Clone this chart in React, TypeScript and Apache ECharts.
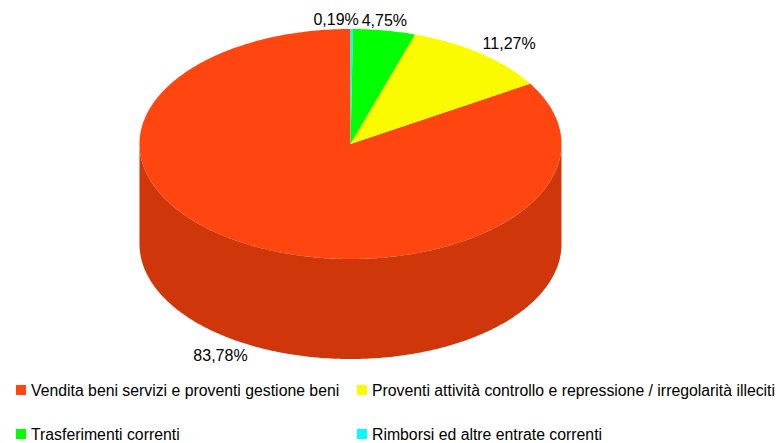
import React, { useEffect, useRef } from "react";
import * as echarts from "echarts";

const categories = [
  "Vendita beni servizi e proventi gestione beni",
  "Proventi attività controllo e repressione / irregolarità illeciti",
  "Trasferimenti correnti",
  "Rimborsi ed altre entrate correnti",
];
const values = [83.78, 11.27, 4.75, 0.19];
const topColors = ["#FF4510", "#FAFB00", "#00FF00", "#00FFFF"];
const sideColors = ["#CF370B", "#C8C900", "#00CC00", "#00CCCC"];
const drawOrder = [3, 2, 1, 0];

const CX = 350.5, CY = 144, RX = 211, RY = 115, DEPTH = 100;
const FONT = '16px "Liberation Sans", Arial, sans-serif';

const labelPlacement: any[] = [
  { align: "right", verticalAlign: "top", dx: 0, dy: 3 },
  { align: "left", verticalAlign: "bottom", dx: 2, dy: -2 },
  { align: "center", verticalAlign: "bottom", dx: 0, dy: -2 },
  { align: "right", verticalAlign: "bottom", dx: 7, dy: -2 },
];

const total = values.reduce((a, b) => a + b, 0);
const range = (i: number) => {
  let s = 0;
  for (const k of drawOrder) {
    if (k === i) break;
    s += values[k];
  }
  return [(s / total) * 360, ((s + values[i]) / total) * 360];
};
const pt = (deg: number, off = 0) => {
  const r = (deg * Math.PI) / 180;
  return [CX + RX * Math.sin(r), CY - RY * Math.cos(r) + off];
};
const arc = (a: number, b: number, off = 0) => {
  const out: number[][] = [];
  const n = Math.max(2, Math.ceil((b - a) / 0.5));
  for (let j = 0; j <= n; j++) out.push(pt(a + ((b - a) * j) / n, off));
  return out;
};

const makeRender = (i: number) => () => {
  const [a, b] = range(i);
  const children: any[] = [];
  const sa = Math.max(a, 90), sb = Math.min(b, 270);
  if (sb > sa) {
    children.push({
      type: "polygon",
      shape: { points: [...arc(sa, sb), ...arc(sa, sb, DEPTH).reverse()] },
      style: { fill: sideColors[i] },
    });
  }
  children.push({
    type: "polygon",
    shape: { points: [[CX, CY], ...arc(a, b)] },
    style: { fill: topColors[i] },
  });
  const mid = (a + b) / 2;
  const p = pt(mid, mid > 90 && mid < 270 ? DEPTH : 0);
  const lp = labelPlacement[i];
  children.push({
    type: "text",
    x: p[0] + lp.dx,
    y: p[1] + lp.dy,
    z2: 10,
    style: {
      text: values[i].toFixed(2).replace(".", ",") + "%",
      fill: "#000",
      font: FONT,
      align: lp.align,
      verticalAlign: lp.verticalAlign,
    },
  });
  return { type: "group", children };
};

const legendPos = [
  { left: 16, top: 382 },
  { left: 357, top: 382 },
  { left: 16, top: 426 },
  { left: 357, top: 426 },
];

export default function App() {
  const ref = useRef<HTMLDivElement>(null);
  useEffect(() => {
    document.body.style.margin = "0";
    const chart = echarts.init(ref.current!, null, { renderer: "svg" });
    chart.setOption({
      animation: false,
      backgroundColor: "#fff",
      legend: categories.map((name, i) => ({
        data: [name],
        left: legendPos[i].left,
        top: legendPos[i].top,
        padding: 0,
        itemWidth: 10,
        itemHeight: 10,
        icon: "rect",
        itemGap: 0,
        selectedMode: false,
        textStyle: {
          fontFamily: '"Liberation Sans", Arial, sans-serif',
          fontSize: 15.8,
          color: "#000",
          padding: [0, 0, 0, 0],
        },
      })),
      series: categories.map((name, i) => ({
        type: "custom",
        name,
        coordinateSystem: "none",
        silent: true,
        clip: false,
        itemStyle: { color: topColors[i] },
        data: [values[i]],
        renderItem: makeRender(i),
      })),
    });
    return () => chart.dispose();
  }, []);
  return <div ref={ref} style={{ width: 780, height: 443 }} />;
}
